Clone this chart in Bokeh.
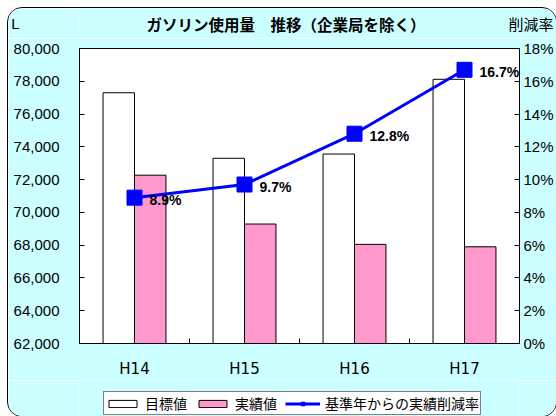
from bokeh.plotting import figure
from bokeh.models import (Range1d, LinearAxis, FixedTicker, NumeralTickFormatter,
                          PrintfTickFormatter, ColumnDataSource, Legend, LegendItem,
                          LabelSet, Label)
from bokeh.layouts import column
from bokeh.transform import dodge
from bokeh.embed import file_html
from bokeh.resources import INLINE
from bokeh.core.properties import value

categories = ["H14", "H15", "H16", "H17"]
target = [77300, 73300, 73560, 78120]
actual = [72270, 69290, 68050, 67900]
rate = [8.9, 9.7, 12.8, 16.7]
y_ticks = list(range(62000, 80001, 2000))
rate_ticks = list(range(0, 19, 2))

title_text = "ガソリン使用量　推移（企業局を除く）"
left_unit = "L"
right_unit = "削減率"
legend_labels = ["目標値", "実績値", "基準年からの実績削減率"]

n = len(categories)
xs = [i + 0.5 for i in range(n)]
bounds = [i for i in range(1, n)]

src = ColumnDataSource(dict(x=xs, cat=categories, target=target, actual=actual,
                            rate=rate, rate_label=[f"{v:.1f}%" for v in rate]))

JP = "Noto Sans CJK JP"
AR = "Liberation Sans"
MIX = "Liberation Sans, Noto Sans CJK JP"
BG = "#CCFFFF"

W, H = 548, 408
LB, RB = 70, 34          # side borders shared by all three strips
HEAD_H, MAIN_H = 30, 342
FOOT_H = H - HEAD_H - MAIN_H
NOSHRINK = {"flex": "0 0 auto"}


def bare_axis(ax):
    ax.ticker = FixedTicker(ticks=[])
    ax.axis_line_color = None
    ax.major_tick_in = ax.major_tick_out = 0
    ax.minor_tick_in = ax.minor_tick_out = 0
    ax.major_label_standoff = 0


# ---------- header strip: title and the two unit texts ----------
head = figure(width=W, height=HEAD_H, x_range=Range1d(0, 1), y_range=Range1d(0, 1),
              x_axis_location=None, output_backend="svg", toolbar_location=None,
              min_border_left=LB, min_border_right=RB, min_border_top=0,
              min_border_bottom=0)
head.grid.visible = False
head.outline_line_color = None
head.background_fill_color = BG
head.border_fill_color = BG
hl = head.yaxis[0]
bare_axis(hl)
hl.axis_label = left_unit
hl.axis_label_orientation = "horizontal"
hl.axis_label_standoff = 60
hl.axis_label_text_font = AR
hl.axis_label_text_font_size = "15px"
hl.axis_label_text_font_style = "normal"
hl.axis_label_text_color = "black"
hr = LinearAxis()
bare_axis(hr)
hr.axis_label = right_unit
hr.axis_label_orientation = "horizontal"
hr.axis_label_standoff = -11
hr.axis_label_text_font = JP
hr.axis_label_text_font_size = "15px"
hr.axis_label_text_font_style = "normal"
hr.axis_label_text_color = "black"
head.add_layout(hr, "right")
head.add_layout(Label(x=67, y=15, x_units="screen", y_units="screen", text=title_text,
                      text_align="left", text_baseline="middle", text_font=JP,
                      text_font_size="15.5px", text_font_style="bold",
                      text_color="black"))
head.styles = NOSHRINK

# ---------- main chart ----------
p = figure(width=W, height=MAIN_H,
           x_range=Range1d(0, n), y_range=Range1d(62000, 80000),
           output_backend="svg", toolbar_location=None,
           min_border_left=LB, min_border_top=10, min_border_bottom=34,
           min_border_right=RB)
p.extra_y_ranges = {"pct": Range1d(0, 18)}
p.background_fill_color = "white"
p.border_fill_color = BG
p.outline_line_color = "black"
p.outline_line_width = 1
p.xgrid.visible = False
p.ygrid.visible = False
p.styles = NOSHRINK

bw = 0.286
bar_t = dict(fill_color="white", line_color="black", line_width=1)
bar_a = dict(fill_color="#FF99CC", line_color="black", line_width=1)
ln = dict(line_color="#0000FF", line_width=3)
mk = dict(marker="square", size=15, fill_color="#0000FF", line_color="#0000FF")

p.vbar(x=dodge("x", -bw / 2), top="target", bottom=62000, width=bw, source=src, **bar_t)
p.vbar(x=dodge("x", bw / 2), top="actual", bottom=62000, width=bw, source=src, **bar_a)
p.line("x", "rate", source=src, y_range_name="pct", **ln)
p.scatter("x", "rate", source=src, y_range_name="pct", **mk)

labels = LabelSet(x="x", y="rate", text="rate_label", source=src, y_range_name="pct",
                  x_offset=15, y_offset=-2, text_baseline="middle", text_align="left",
                  text_font=value(AR), text_font_size="14px", text_font_style="bold",
                  text_color="black")
p.add_layout(labels)

xa = p.xaxis[0]
xa.ticker = FixedTicker(ticks=xs, minor_ticks=bounds)
xa.major_label_overrides = {x: c for x, c in zip(xs, categories)}
xa.major_tick_in = 0
xa.major_tick_out = 0
xa.minor_tick_in = 5
xa.minor_tick_out = 0
xa.major_label_standoff = 16
xa.major_label_text_font = "DejaVu Sans"
xa.major_label_text_font_size = "15px"
xa.major_label_text_color = "black"
xa.axis_line_color = "black"

ya = p.yaxis[0]
ya.ticker = FixedTicker(ticks=y_ticks)
ya.formatter = NumeralTickFormatter(format="0,0")
ya.major_tick_in = 5
ya.major_tick_out = 0
ya.minor_tick_in = 0
ya.minor_tick_out = 0
ya.major_label_standoff = 20
ya.major_label_text_font = AR
ya.major_label_text_font_size = "15px"
ya.major_label_text_color = "black"

ra = LinearAxis(y_range_name="pct", ticker=FixedTicker(ticks=rate_ticks),
                formatter=PrintfTickFormatter(format="%d%%"))
ra.major_tick_in = 5
ra.major_tick_out = 0
ra.minor_tick_in = 0
ra.minor_tick_out = 0
ra.major_label_standoff = 4
ra.major_label_text_font = AR
ra.major_label_text_font_size = "15px"
ra.major_label_text_color = "black"
p.add_layout(ra, "right")

# ---------- footer strip: legend (swatch renderers are hidden) ----------
foot = figure(width=W, height=FOOT_H, x_range=Range1d(0, n), y_range=Range1d(0, 1),
              x_axis_location=None, y_axis_location=None,
              output_backend="svg", toolbar_location=None,
              min_border_left=LB, min_border_right=RB, min_border_top=0,
              min_border_bottom=0)
foot.grid.visible = False
foot.outline_line_color = None
foot.background_fill_color = BG
foot.border_fill_color = BG
foot.styles = NOSHRINK
f_t = foot.vbar(x="x", top="target", bottom=62000, width=bw, source=src, visible=False, **bar_t)
f_a = foot.vbar(x="x", top="actual", bottom=62000, width=bw, source=src, visible=False, **bar_a)
f_l = foot.line("x", "rate", source=src, visible=False, **ln)
f_s = foot.scatter("x", "rate", source=src, visible=False, **mk)

legend = Legend(items=[LegendItem(label=legend_labels[0], renderers=[f_t]),
                       LegendItem(label=legend_labels[1], renderers=[f_a]),
                       LegendItem(label=legend_labels[2], renderers=[f_l, f_s])],
                orientation="horizontal", location=(24, 1),
                background_fill_color="white", background_fill_alpha=1,
                border_line_color="black", border_line_width=1,
                inactive_fill_alpha=0,
                padding=1, margin=0, spacing=8, label_standoff=5,
                glyph_width=35, glyph_height=9, label_height=12,
                label_text_font=MIX, label_text_font_size="14px",
                label_text_color="black")
foot.add_layout(legend, "center")

page = column(head, p, foot, spacing=0, width=W, height=H, sizing_mode="fixed",
              styles={"position": "absolute", "left": "8px", "top": "8px",
                      "width": f"{W}px", "height": f"{H}px",
                      "outline": "1px solid black", "border-radius": "14px",
                      "overflow": "hidden"})

open("out.html", "w").write(file_html(page, INLINE))
